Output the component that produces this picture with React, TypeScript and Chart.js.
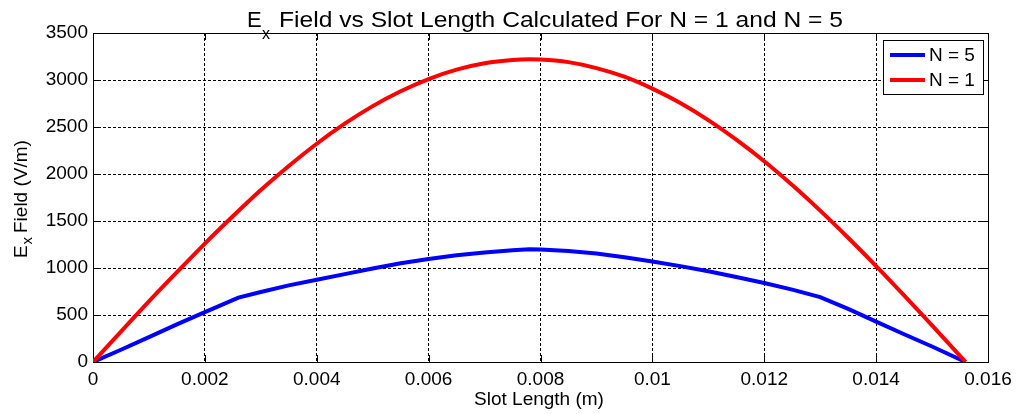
import { useEffect, useRef } from 'react';
import { Chart, registerables } from 'chart.js';

Chart.register(...registerables);

const FONT = '"Liberation Sans", Arial, Helvetica, sans-serif';

const titleMain = 'E';
const titleSub = 'x';
const titleRest = 'Field vs Slot Length Calculated For N = 1 and N = 5';
const xAxisLabel = 'Slot Length (m)';
const yLabelMain = 'E';
const yLabelSub = 'x';
const yLabelRest = 'Field (V/m)';

const xTicks = [0, 0.002, 0.004, 0.006, 0.008, 0.01, 0.012, 0.014, 0.016];
const yTicks = [0, 500, 1000, 1500, 2000, 2500, 3000, 3500];

const seriesLabels = ['N = 5', 'N = 1'];
const seriesColors = ['#0000ff', '#ff0000'];

const n5X = [0, 0.0005, 0.001, 0.0015, 0.002, 0.0026, 0.003, 0.0035, 0.004, 0.0045, 0.005, 0.0055, 0.006, 0.0065, 0.007, 0.0075, 0.0078, 0.008, 0.0085, 0.009, 0.0095, 0.01, 0.0105, 0.011, 0.0115, 0.012, 0.0125, 0.013, 0.0135, 0.014, 0.0145, 0.015, 0.0156];
const n5Y = [0, 130, 265, 400, 530, 685, 745, 815, 875, 935, 995, 1050, 1095, 1135, 1165, 1190, 1200, 1197, 1180, 1155, 1115, 1070, 1020, 965, 905, 840, 770, 690, 565, 430, 295, 165, 0];

const n1X = [0, 0.0005, 0.001, 0.0015, 0.002, 0.0025, 0.003, 0.0035, 0.004, 0.0045, 0.005, 0.0055, 0.006, 0.0065, 0.007, 0.0075, 0.0078, 0.008, 0.0085, 0.009, 0.0095, 0.01, 0.0105, 0.011, 0.0115, 0.012, 0.0125, 0.013, 0.0135, 0.014, 0.0145, 0.015, 0.0155, 0.0156];
const n1Y = [0, 323, 645, 955, 1260, 1550, 1829, 2085, 2322, 2535, 2722, 2880, 3010, 3110, 3178, 3213, 3220, 3218, 3190, 3127, 3035, 2908, 2755, 2573, 2365, 2135, 1882, 1610, 1322, 1021, 709, 389, 65, 0];

const fmt = (v: number) => (v === 0 ? '0' : String(parseFloat(v.toFixed(4))));

const decorPlugin = {
  id: 'decor',
  beforeDatasetsDraw(chart: any) {
    const { ctx, chartArea: a } = chart;
    const xs = chart.scales.x;
    const ys = chart.scales.y;
    ctx.save();
    ctx.strokeStyle = '#000';
    ctx.lineWidth = 1;
    ctx.setLineDash([]);
    const tl = 7;
    ctx.beginPath();
    xTicks.forEach((v) => {
      const px = Math.round(xs.getPixelForValue(v)) + 0.5;
      ctx.moveTo(px, a.bottom);
      ctx.lineTo(px, a.bottom - tl);
      ctx.moveTo(px, a.top);
      ctx.lineTo(px, a.top + tl);
    });
    yTicks.forEach((v) => {
      const py = Math.round(ys.getPixelForValue(v)) + 0.5;
      ctx.moveTo(a.left, py);
      ctx.lineTo(a.left + tl, py);
      ctx.moveTo(a.right, py);
      ctx.lineTo(a.right - tl, py);
    });
    ctx.stroke();
    ctx.strokeRect(Math.round(a.left) + 0.5, Math.round(a.top) + 0.5, Math.round(a.right - a.left), Math.round(a.bottom - a.top));
    ctx.restore();
  },
  afterDraw(chart: any) {
    const { ctx } = chart;
    ctx.save();
    ctx.fillStyle = '#000';
    ctx.textBaseline = 'alphabetic';
    ctx.textAlign = 'left';
    // Title
    ctx.font = `22px ${FONT}`;
    ctx.fillText(titleMain, 247, 27);
    ctx.font = `16px ${FONT}`;
    ctx.fillText(titleSub, 262, 39);
    ctx.font = `22px ${FONT}`;
    const w = ctx.measureText(titleRest).width;
    const target = 843 - 279;
    ctx.save();
    ctx.translate(279, 27);
    ctx.scale(target / w, 1);
    ctx.fillText(titleRest, 0, 0);
    ctx.restore();
    // X label
    ctx.font = `19px ${FONT}`;
    ctx.textAlign = 'center';
    ctx.fillText(xAxisLabel, 539, 405);
    // Y label
    ctx.textAlign = 'left';
    ctx.save();
    ctx.translate(27, 258);
    ctx.rotate(-Math.PI / 2);
    ctx.font = `19px ${FONT}`;
    ctx.fillText(yLabelMain, 0, 0);
    ctx.font = `15px ${FONT}`;
    ctx.fillText(yLabelSub, 13.5, 5);
    ctx.font = `19px ${FONT}`;
    ctx.fillText(yLabelRest, 25, 0);
    ctx.restore();
    // Legend
    ctx.fillStyle = '#fff';
    ctx.fillRect(883.5, 40.5, 100, 54);
    ctx.strokeStyle = '#000';
    ctx.lineWidth = 1;
    ctx.strokeRect(883.5, 40.5, 100, 54);
    const rows = [55, 80];
    seriesLabels.forEach((lab, i) => {
      ctx.strokeStyle = seriesColors[i];
      ctx.lineWidth = 4;
      ctx.beginPath();
      ctx.moveTo(890, rows[i]);
      ctx.lineTo(925, rows[i]);
      ctx.stroke();
      ctx.fillStyle = '#000';
      ctx.font = `19px ${FONT}`;
      ctx.textBaseline = 'middle';
      ctx.fillText(lab, 929, rows[i] + 1);
    });
    ctx.restore();
  },
};

export default function App() {
  const ref = useRef<HTMLCanvasElement | null>(null);
  useEffect(() => {
    if (!ref.current) return;
    Chart.defaults.font.family = FONT;
    const chart = new Chart(ref.current, {
      type: 'line',
      data: {
        datasets: [
          {
            label: seriesLabels[0],
            data: n5X.map((x, i) => ({ x, y: n5Y[i] })),
            borderColor: seriesColors[0],
            backgroundColor: seriesColors[0],
            borderWidth: 4,
            pointRadius: 0,
            tension: 0,
            order: 2,
          },
          {
            label: seriesLabels[1],
            data: n1X.map((x, i) => ({ x, y: n1Y[i] })),
            borderColor: seriesColors[1],
            backgroundColor: seriesColors[1],
            borderWidth: 4,
            pointRadius: 0,
            cubicInterpolationMode: 'monotone',
            order: 1,
          },
        ],
      },
      options: {
        responsive: false,
        maintainAspectRatio: false,
        animation: false,
        layout: { padding: { top: 33, right: 33, left: 0, bottom: 0 } },
        plugins: {
          legend: { display: false },
          title: { display: false },
          tooltip: { enabled: false },
        },
        scales: {
          x: {
            type: 'linear',
            min: 0,
            max: 0.016,
            afterBuildTicks: (s: any) => {
              s.ticks = xTicks.map((v) => ({ value: v }));
            },
            afterFit: (s: any) => {
              s.height = 52;
            },
            ticks: {
              autoSkip: false,
              maxRotation: 0,
              color: '#000',
              padding: 6,
              font: { size: 19, family: FONT },
              callback: (v: any) => fmt(Number(v)),
            },
            grid: { color: '#000', lineWidth: 1, drawTicks: false },
            border: { display: false, dash: [3, 2] },
          },
          y: {
            type: 'linear',
            min: 0,
            max: 3500,
            afterBuildTicks: (s: any) => {
              s.ticks = yTicks.map((v) => ({ value: v }));
            },
            afterFit: (s: any) => {
              s.width = 93;
            },
            ticks: {
              color: '#000',
              padding: 5,
              font: { size: 19, family: FONT },
              callback: (v: any) => String(v),
            },
            grid: { color: '#000', lineWidth: 1, drawTicks: false },
            border: { display: false, dash: [3, 2] },
          },
        },
      },
      plugins: [decorPlugin],
    });
    return () => chart.destroy();
  }, []);
  return (
    <div style={{ position: 'absolute', left: 0, top: 0, width: 1021, height: 414, background: '#fff' }}>
      <canvas ref={ref} width={1021} height={414} style={{ display: 'block' }} />
    </div>
  );
}
